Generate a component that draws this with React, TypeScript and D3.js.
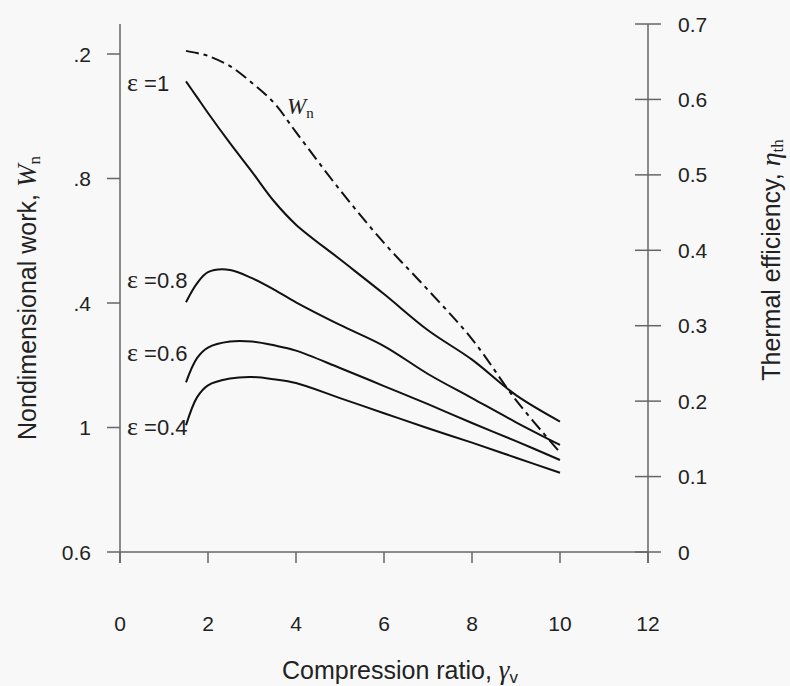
import React from "react";
import * as d3 from "d3";

const compressionRatio = [1.5, 1.75, 2, 2.5, 3, 3.5, 4, 5, 6, 7, 8, 9, 10];
const effEps1 = [0.624, 0.603, 0.582, 0.542, 0.504, 0.465, 0.434, 0.388, 0.342, 0.294, 0.255, 0.208, 0.173];
const effEps08 = [0.331, 0.356, 0.371, 0.374, 0.363, 0.348, 0.331, 0.301, 0.273, 0.236, 0.204, 0.172, 0.142];
const effEps06 = [0.225, 0.257, 0.271, 0.279, 0.279, 0.274, 0.267, 0.244, 0.22, 0.196, 0.171, 0.147, 0.122];
const effEps04 = [0.168, 0.205, 0.221, 0.23, 0.232, 0.229, 0.224, 0.204, 0.184, 0.164, 0.145, 0.125, 0.105];
const workWn = [2.21, 2.203, 2.194, 2.161, 2.107, 2.043, 1.949, 1.763, 1.593, 1.442, 1.284, 1.088, 0.92];

const xTicks = [0, 2, 4, 6, 8, 10, 12];
const leftTicks = [0.6, 1, 1.4, 1.8, 2.2];
const leftTickLabels = ["0.6", "1", ".4", ".8", ".2"];
const rightTicks = [0, 0.1, 0.2, 0.3, 0.4, 0.5, 0.6, 0.7];

const effSeries = [
  { label: "=1", values: effEps1 },
  { label: "=0.8", values: effEps08 },
  { label: "=0.6", values: effEps06 },
  { label: "=0.4", values: effEps04 },
];

export default function App() {
  const W = 790, H = 686;
  const x = d3.scaleLinear().domain([0, 12]).range([120, 648]);
  const yL = d3.scaleLinear().domain([0.6, 2.2]).range([552, 54]);
  const yR = d3.scaleLinear().domain([0, 0.7]).range([552, 24]);
  const axisColor = "#666";
  const textColor = "#222";
  const sans = "'Liberation Sans', Arial, sans-serif";
  const serif = "'Liberation Serif', 'Times New Roman', serif";

  const lineR = d3
    .line<number>()
    .x((_, i) => x(compressionRatio[i]))
    .y((d) => yR(d))
    .curve(d3.curveCatmullRom.alpha(0.5));
  const lineL = d3
    .line<number>()
    .x((_, i) => x(compressionRatio[i]))
    .y((d) => yL(d))
    .curve(d3.curveCatmullRom.alpha(0.5));

  const epsLabelY = [91, 288, 361, 435];

  return (
    <svg
      width={W}
      height={H}
      style={{ position: "absolute", left: 0, top: 0, background: "#f8f8f8" }}
    >
      {/* axes */}
      <line x1={x(0)} x2={x(0)} y1={24} y2={563} stroke={axisColor} strokeWidth={1.5} />
      <line x1={x(12)} x2={x(12)} y1={24} y2={563} stroke={axisColor} strokeWidth={1.5} />
      <line x1={x(0)} x2={x(12)} y1={yR(0)} y2={yR(0)} stroke={axisColor} strokeWidth={1.5} />

      {xTicks.map((t) => (
        <g key={"x" + t}>
          <line x1={x(t)} x2={x(t)} y1={yR(0)} y2={563} stroke={axisColor} strokeWidth={1.5} />
          <text x={x(t)} y={631} textAnchor="middle" fontFamily={sans} fontSize={21} fill={textColor}>
            {t}
          </text>
        </g>
      ))}

      {leftTicks.map((t, i) => (
        <g key={"l" + t}>
          <line x1={107} x2={x(0)} y1={yL(t)} y2={yL(t)} stroke={axisColor} strokeWidth={1.5} />
          <text x={91} y={yL(t) + 7.5} textAnchor="end" fontFamily={sans} fontSize={21} fill={textColor}>
            {leftTickLabels[i]}
          </text>
        </g>
      ))}

      {rightTicks.map((t) => (
        <g key={"r" + t}>
          <line x1={635} x2={661} y1={yR(t)} y2={yR(t)} stroke={axisColor} strokeWidth={1.5} />
          <text x={678} y={yR(t) + 7.5} textAnchor="start" fontFamily={sans} fontSize={21} fill={textColor}>
            {t === 0 ? "0" : d3.format(".1f")(t)}
          </text>
        </g>
      ))}

      {/* curves */}
      {effSeries.map((s) => (
        <path key={s.label} d={lineR(s.values) || ""} fill="none" stroke="#111" strokeWidth={2} />
      ))}
      <path
        d={lineL(workWn) || ""}
        fill="none"
        stroke="#111"
        strokeWidth={2}
        strokeDasharray="13,5,4,5"
      />

      {/* epsilon labels */}
      {effSeries.map((s, i) => (
        <text key={"lab" + s.label} x={127} y={epsLabelY[i]} fontFamily={sans} fontSize={22} fill={textColor}>
          <tspan fontFamily={serif} fontSize={26}>ε</tspan>
          <tspan> {s.label}</tspan>
        </text>
      ))}

      {/* Wn label */}
      <text x={287} y={114} fontFamily={serif} fill={textColor}>
        <tspan fontStyle="italic" fontSize={23}>W</tspan>
        <tspan fontSize={15} dy={4}>n</tspan>
      </text>

      {/* axis titles */}
      <text x={400} y={679} textAnchor="middle" fontFamily={sans} fontSize={25} fill={textColor}>
        Compression ratio,{" "}
        <tspan fontFamily={serif} fontStyle="italic" fontSize={27}>γ</tspan>
        <tspan fontSize={17} dy={4}>v</tspan>
      </text>

      <text
        transform={`translate(36, 298) rotate(-90)`}
        textAnchor="middle"
        fontFamily={sans}
        fontSize={25}
        fill={textColor}
      >
        Nondimensional work,{" "}
        <tspan fontFamily={serif} fontStyle="italic" fontSize={27}>W</tspan>
        <tspan fontFamily={serif} fontSize={17} dy={4}>n</tspan>
      </text>

      <text
        transform={`translate(780, 260) rotate(-90)`}
        textAnchor="middle"
        fontFamily={sans}
        fontSize={25}
        fill={textColor}
      >
        Thermal efficiency,{" "}
        <tspan fontFamily={serif} fontStyle="italic" fontSize={28}>η</tspan>
        <tspan fontFamily={serif} fontSize={17} dy={3}>th</tspan>
      </text>
    </svg>
  );
}
